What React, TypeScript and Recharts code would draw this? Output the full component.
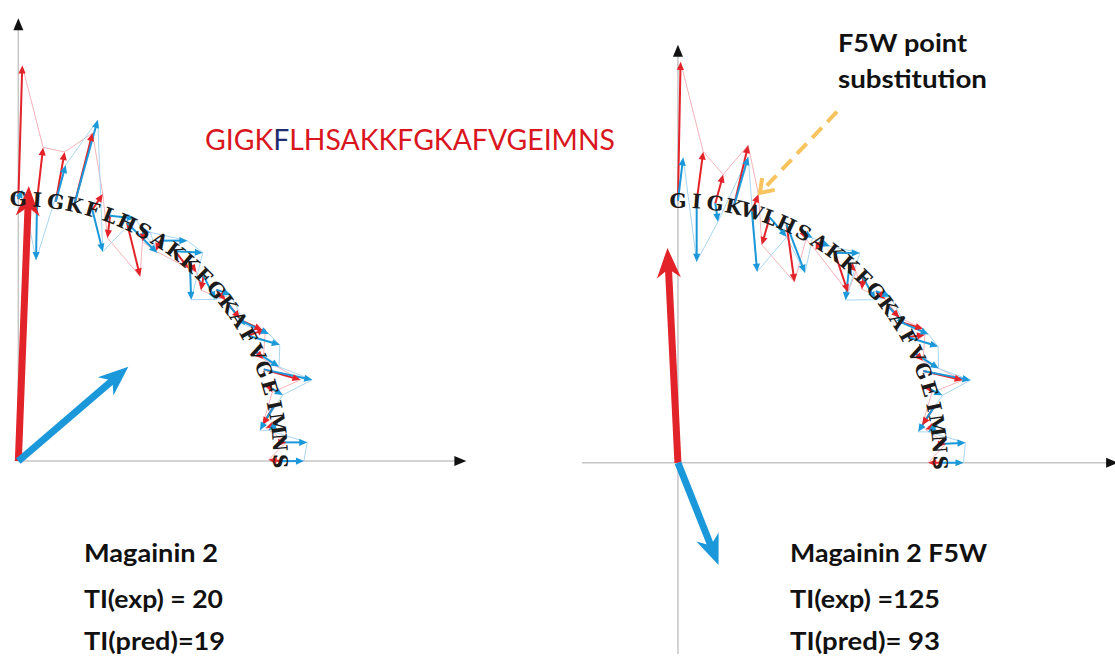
// =============================================================================
// App.tsx — Magainin 2 vs F5W: per-residue vectors drawn along the helix arc
// =============================================================================
// Each panel is a ComposedChart with hidden numeric axes. x and y use the same
// pixels-per-unit, so an arrow's data vector (dx, dy) is also its on-screen direction.
// =============================================================================

import { ComposedChart, Line, Scatter, XAxis, YAxis } from 'recharts'

const PX = 26.2 // pixels per data unit, both axes, both panels

// sequences (one letter per residue)
const seqWild = 'GIGKFLHSAKKFGKAFVGEIMNS'
const seqMutant = 'GIGKWLHSAKKFGKAFVGEIMNS'

// residues sit on a quarter arc of radius 10, angle in degrees from the x axis
const arcRadius = 10
const residueAngles = [
  90, 85.9, 81.8, 77.7, 73.6, 69.5, 65.5, 61.4, 57.3, 53.2, 49.1, 45,
  40.9, 36.8, 32.7, 28.6, 24.5, 20.5, 16.4, 12.3, 8.2, 4.1, 0,
]

// Magainin 2 — red / blue vector per residue
const wildRedDx = [0.15, 0.23, 0.34, 0.7, 0.4, -0.1, 0.5, -0.05, -0.15, 0.5, 0.25, -0.1, 0.35, 0.45, 0.9, 0.65, 0.25, 1.4, 0.1, -0.45, -0.45, 0.25, -0.45]
const wildRedDy = [5.1, 2.0, 1.9, 2.75, 0.6, -0.85, -2.05, -0.4, -0.4, -0.65, -0.35, -0.55, -0.4, -0.55, -0.4, 0.25, -0.25, -0.4, -0.2, -0.75, -0.15, 0, 0.05]
const wildBlueDx = [0.15, -0.04, 0.38, 0.9, 0.4, 0.95, 1.15, 0.25, 1.05, 1.05, 0.05, 0.45, 0.55, 0.65, 1.15, 1.2, 0.85, 1.85, 0.5, -0.55, -0.35, 1.05, 0.9]
const wildBlueDy = [0.35, -2.3, 1.4, 3.25, -1.6, -0.1, -1.15, -0.05, 0, -0.05, -1.4, -0.9, -0.2, -0.8, -0.55, -0.35, -0.55, -0.4, -0.3, -0.95, -0.25, 0, 0]
const wildSumRed: [number, number] = [0.4, 10.5]
const wildSumBlue: [number, number] = [4.2, 3.6]

// Magainin 2 F5W
const mutRedDx = [0.1, 0.25, 0.3, 0.55, 0.25, -0.3, 0.3, 0.1, -0.15, 0.5, 0.25, -0.05, 0.35, 0.45, 0.95, 0.65, 0.25, 1.5, 0.1, -0.45, -0.45, 0.25, -0.45]
const mutRedDy = [5.3, 1.9, 1.1, 2.35, 0.65, -1.05, -2.2, -0.25, -0.3, -1.5, -0.25, -0.45, -0.3, -0.45, -0.3, 0.1, -0.25, -0.35, -0.15, -0.7, -0.15, 0, 0]
const mutBlueDx = [0.2, 0, 0.1, 0.55, 0.2, 0.65, 0.7, 0.35, 0.4, 0.95, -0.15, 0.45, 0.55, 0.65, 1.15, 1.15, 0.85, 1.8, 0.5, -0.6, -0.35, 1.0, 0.9]
const mutBlueDy = [1.65, -2.3, -0.7, 1.9, -2.3, -0.75, -1.85, -0.2, -0.15, 0, -1.35, -0.85, -0.2, -0.7, -0.5, -0.35, -0.55, -0.35, -0.25, -0.95, -0.25, 0.05, 0]
const mutSumRed: [number, number] = [-0.4, 8.2]
const mutSumBlue: [number, number] = [1.55, -3.9]

// dashed pointer to W5 (from, to)
const pointerFrom = { x: 6.07, y: 13.4 }
const pointerTo = { x: 3.13, y: 10.3 }

// captions
const captionsWild = ['Magainin 2', 'TI(exp) = 20', 'TI(pred)=19']
const captionsMutant = ['Magainin 2 F5W', 'TI(exp) =125', 'TI(pred)= 93']
const noteLines = ['F5W point', 'substitution']

const RED = '#e2232a'
const BLUE = '#1b98d9'
const PINK = '#f5b3ba'
const SKY = '#a8d6f2'
const AXIS = '#c6c6c6'

// polygon points of an arrow head; (cx, cy) is where the shaft stops
function headPoints(cx: number, cy: number, dx: number, dy: number, len: number, half: number, notch: number, lead: number) {
  const n = Math.hypot(dx, dy) || 1
  const ux = dx / n
  const uy = -dy / n
  const tx = cx + ux * lead
  const ty = cy + uy * lead
  const bx = tx - ux * len
  const by = ty - uy * len
  const px = -uy
  const py = ux
  const pts = [
    [tx, ty],
    [bx + px * half, by + py * half],
    [tx - ux * len * notch, ty - uy * len * notch],
    [bx - px * half, by - py * half],
  ]
  return pts.map((p) => p.join(',')).join(' ')
}

// shaft from base to just behind the tip, so the head covers the end
function arrowData(bx: number, by: number, dx: number, dy: number, lead: number) {
  const len = Math.hypot(dx, dy) * PX
  const k = len > 0 ? Math.max(0, 1 - lead / len) : 0
  return [
    { x: bx, y: by },
    { x: bx + dx * k, y: by + dy * k, dx, dy },
  ]
}

const headDot = (color: string, len: number, half: number, notch: number, lead: number) => (p: any) => {
  if (p.index !== 1 || p.cx == null) return <g key={`e${p.index}`} />
  return (
    <polygon
      key="head"
      points={headPoints(p.cx, p.cy, p.payload.dx, p.payload.dy, len, half, notch, lead)}
      fill={color}
    />
  )
}

const chevronDot = (p: any) => {
  if (p.index !== 1 || p.cx == null) return <g key={`e${p.index}`} />
  const { dx, dy } = p.payload
  const n = Math.hypot(dx, dy) || 1
  const ux = dx / n
  const uy = -dy / n
  const a = (35 * Math.PI) / 180
  const arm = 15
  const r1 = [p.cx - arm * (ux * Math.cos(a) - uy * Math.sin(a)), p.cy - arm * (ux * Math.sin(a) + uy * Math.cos(a))]
  const r2 = [p.cx - arm * (ux * Math.cos(a) + uy * Math.sin(a)), p.cy - arm * (-ux * Math.sin(a) + uy * Math.cos(a))]
  return (
    <polyline
      key="chev"
      points={`${r1.join(',')} ${p.cx},${p.cy} ${r2.join(',')}`}
      fill="none"
      stroke="#f9c35e"
      strokeWidth={4}
    />
  )
}

const renderLetter = (p: any) => (
  <text
    x={p.cx}
    y={p.cy}
    transform={`rotate(${p.payload.rot} ${p.cx} ${p.cy})`}
    textAnchor="middle"
    dominantBaseline="central"
    fontFamily="'DejaVu Serif', 'Liberation Serif', serif"
    fontWeight="bold"
    fontSize={20}
    fill="#1b1b1b"
  >
    {p.payload.ch}
  </text>
)

const renderAxisTip = (p: any) => (
  <polygon points={headPoints(p.cx, p.cy, p.payload.dx, p.payload.dy, 12, 5, 1, 0)} fill="#111" />
)

interface PanelProps {
  seq: string
  redDx: number[]
  redDy: number[]
  blueDx: number[]
  blueDy: number[]
  sumRed: [number, number]
  sumBlue: [number, number]
  origin: [number, number] // page pixel of data (0,0)
  xDomain: [number, number]
  yDomain: [number, number]
  xAxisFrom: number
  xAxisTip: number
  yAxisFrom: number
  yAxisTip: number
  pointer?: boolean
}

function Panel(props: PanelProps) {
  const { seq, redDx, redDy, blueDx, blueDy, sumRed, sumBlue, origin, xDomain, yDomain } = props
  const width = (xDomain[1] - xDomain[0]) * PX
  const height = (yDomain[1] - yDomain[0]) * PX
  const left = origin[0] + xDomain[0] * PX
  const top = origin[1] - yDomain[1] * PX

  const letters = seq.split('').map((ch, i) => {
    const t = (residueAngles[i] * Math.PI) / 180
    return { x: arcRadius * Math.cos(t), y: arcRadius * Math.sin(t), ch, rot: 90 - residueAngles[i] }
  })
  const redTips = letters.map((l, i) => ({ x: l.x + redDx[i], y: l.y + redDy[i] }))
  const blueTips = letters.map((l, i) => ({ x: l.x + blueDx[i], y: l.y + blueDy[i] }))
  const axisTips = [
    { x: 0, y: props.yAxisTip, dx: 0, dy: 1 },
    { x: props.xAxisTip, y: 0, dx: 1, dy: 0 },
  ]

  return (
    <div style={{ position: 'absolute', left, top }}>
      <ComposedChart width={width} height={height} margin={{ top: 0, right: 0, bottom: 0, left: 0 }}>
        <XAxis type="number" dataKey="x" domain={xDomain} allowDataOverflow hide />
        <YAxis type="number" dataKey="y" domain={yDomain} allowDataOverflow hide />

        {/* axes */}
        <Line data={[{ x: 0, y: props.yAxisFrom }, { x: 0, y: props.yAxisTip - 0.3 }]} dataKey="y" stroke={AXIS} strokeWidth={1.5} dot={false} activeDot={false} isAnimationActive={false} />
        <Line data={[{ x: props.xAxisFrom, y: 0 }, { x: props.xAxisTip - 0.3, y: 0 }]} dataKey="y" stroke={AXIS} strokeWidth={1.5} dot={false} activeDot={false} isAnimationActive={false} />
        <Scatter data={axisTips} shape={renderAxisTip} isAnimationActive={false} />

        {/* thin lines joining the tips */}
        <Line data={redTips} dataKey="y" stroke={PINK} strokeWidth={1} dot={false} activeDot={false} isAnimationActive={false} />
        <Line data={blueTips} dataKey="y" stroke={SKY} strokeWidth={1} dot={false} activeDot={false} isAnimationActive={false} />

        {/* per-residue vectors */}
        {letters.map((l, i) => (
          <Line
            key={`r${i}`}
            data={arrowData(l.x, l.y, redDx[i], redDy[i], 4)}
            dataKey="y"
            stroke={RED}
            strokeWidth={2}
            dot={headDot(RED, 8, 3.6, 1, 4)}
            activeDot={false}
            isAnimationActive={false}
          />
        ))}
        {letters.map((l, i) => (
          <Line
            key={`b${i}`}
            data={arrowData(l.x, l.y, blueDx[i], blueDy[i], 4)}
            dataKey="y"
            stroke={BLUE}
            strokeWidth={2}
            dot={headDot(BLUE, 8, 3.6, 1, 4)}
            activeDot={false}
            isAnimationActive={false}
          />
        ))}

        {/* summed vectors from the origin */}
        <Line data={arrowData(0, 0, sumRed[0], sumRed[1], 18)} dataKey="y" stroke={RED} strokeWidth={7} dot={headDot(RED, 30, 12, 0.7, 18)} activeDot={false} isAnimationActive={false} />
        <Line data={arrowData(0, 0, sumBlue[0], sumBlue[1], 18)} dataKey="y" stroke={BLUE} strokeWidth={7} dot={headDot(BLUE, 30, 12, 0.7, 18)} activeDot={false} isAnimationActive={false} />

        {props.pointer && (
          <Line
            data={[pointerFrom, { ...pointerTo, dx: pointerTo.x - pointerFrom.x, dy: pointerTo.y - pointerFrom.y }]}
            dataKey="y"
            stroke="#f9c35e"
            strokeWidth={4}
            strokeDasharray="14 8"
            dot={chevronDot}
            activeDot={false}
            isAnimationActive={false}
          />
        )}

        <Scatter data={letters} shape={renderLetter} isAnimationActive={false} />
      </ComposedChart>
    </div>
  )
}

const captionFont = "Lato, 'Open Sans', sans-serif"

function App() {
  const captionLengths = [[134, 139, 141], [197, 150, 150]]
  const captionBase = [562, 608, 650]
  return (
    <div style={{ position: 'absolute', left: 0, top: 0, width: 1115, height: 657, overflow: 'hidden', background: '#fff' }}>
      <Panel
        seq={seqWild}
        redDx={wildRedDx}
        redDy={wildRedDy}
        blueDx={wildBlueDx}
        blueDy={wildBlueDy}
        sumRed={wildSumRed}
        sumBlue={wildSumBlue}
        origin={[18, 461]}
        xDomain={[-0.7, 20.5]}
        yDomain={[-7.5, 17.6]}
        xAxisFrom={0}
        xAxisTip={17.1}
        yAxisFrom={0}
        yAxisTip={16.9}
      />
      <Panel
        seq={seqMutant}
        redDx={mutRedDx}
        redDy={mutRedDy}
        blueDx={mutBlueDx}
        blueDy={mutBlueDy}
        sumRed={mutSumRed}
        sumBlue={mutSumBlue}
        origin={[678, 463]}
        xDomain={[-3.7, 16.9]}
        yDomain={[-7.3, 17.7]}
        xAxisFrom={-3.66}
        xAxisTip={16.8}
        yAxisFrom={-7.3}
        yAxisTip={15.95}
        pointer
      />

      <svg width={1115} height={657} style={{ position: 'absolute', left: 0, top: 0, pointerEvents: 'none' }}>
        <text x={205} y={150} fontFamily={captionFont} fontSize={28} textLength={410} lengthAdjust="spacingAndGlyphs" fill="#d9161d">
          {seqWild.slice(0, 4)}
          <tspan fill="#1f2d6e">{seqWild[4]}</tspan>
          {seqWild.slice(5)}
        </text>

        {captionsWild.map((c, i) => (
          <text key={`cw${i}`} x={84} y={captionBase[i]} fontFamily={captionFont} fontWeight="bold" fontSize={24} textLength={captionLengths[0][i]} lengthAdjust="spacingAndGlyphs" fill="#111">
            {c}
          </text>
        ))}
        {captionsMutant.map((c, i) => (
          <text key={`cm${i}`} x={790} y={captionBase[i]} fontFamily={captionFont} fontWeight="bold" fontSize={24} textLength={captionLengths[1][i]} lengthAdjust="spacingAndGlyphs" fill="#111">
            {c}
          </text>
        ))}
        {noteLines.map((c, i) => (
          <text key={`n${i}`} x={838} y={[52, 88][i]} fontFamily={captionFont} fontWeight="bold" fontSize={24} textLength={[129, 149][i]} lengthAdjust="spacingAndGlyphs" fill="#111">
            {c}
          </text>
        ))}
      </svg>
    </div>
  )
}

export default App
